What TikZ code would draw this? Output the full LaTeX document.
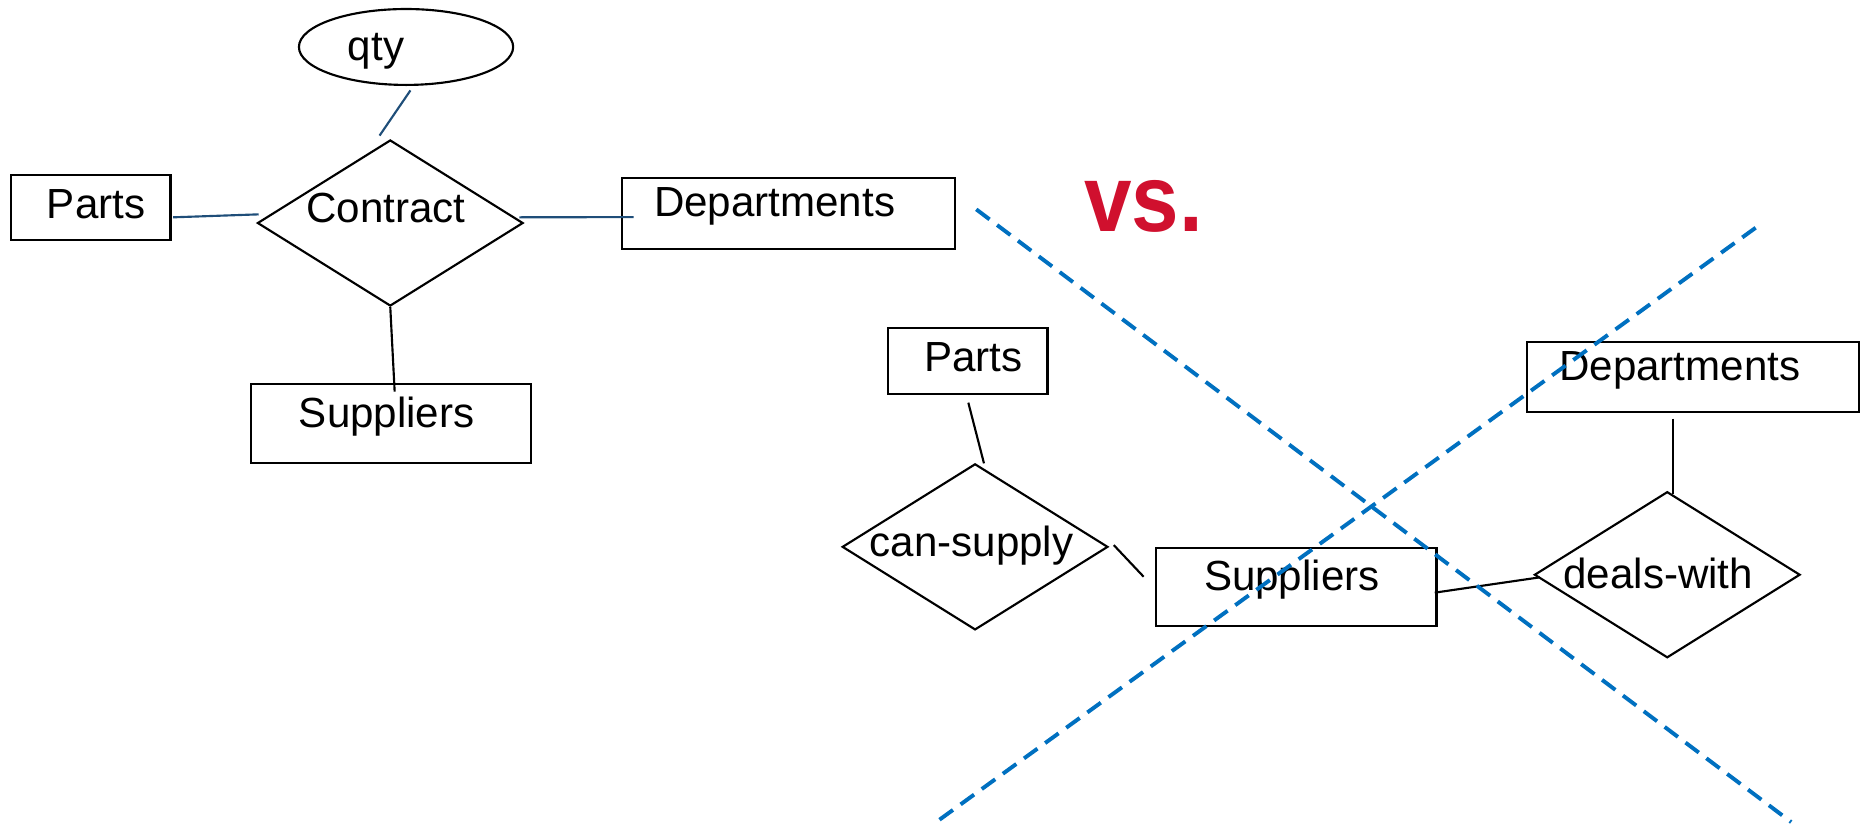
\documentclass[tikz,border=0pt]{standalone}
\usepackage{fontspec}
\setmainfont{Liberation Sans}
\usetikzlibrary{shapes.geometric,calc}
\definecolor{conblue}{RGB}{31,78,121}
\definecolor{dashblue}{RGB}{0,112,192}
\definecolor{vsred}{RGB}{208,16,46}
\begin{document}
\begin{tikzpicture}[x=1pt,y=-1pt,
  box/.style={draw, line width=1.8pt, rectangle, inner sep=0pt},
  rel/.style={draw, diamond, line width=1.8pt, inner sep=0pt, minimum width=224pt, minimum height=140pt},
  attr/.style={draw, ellipse, line width=1.8pt, inner sep=0pt},
  lbl/.style={font=\fontsize{35.5}{42}\selectfont, anchor=base, inner sep=0pt},
  conb/.style={draw=conblue, line width=1.8pt},
  conk/.style={draw=black, line width=1.8pt},
  cross/.style={draw=dashblue, line width=3.3pt, dash pattern=on 14pt off 8pt}]
\useasboundingbox (0,0) rectangle (1568,693.8);

% ---- left diagram ----
\node[attr, minimum width=180.6pt, minimum height=64pt] (qty) at (342.3,39.6) {};
\node[lbl] (qtyt) at (317,51.4) {qty};
\node[rel] (contract) at (329,188) {};
\node[lbl] (contractt) at (325.5,187.7) {Contract};
\node[box, minimum width=134.7pt, minimum height=55pt] (partsL) at (76.4,175) {};
\node[lbl] (partsLt) at (81,184.6) {Parts};
\node[box, minimum width=236pt, minimum height=66pt] (suppL) at (329.7,357) {};
\node[lbl] (suppLt) at (326,360.5) {Suppliers};
\node[box, minimum width=280.8pt, minimum height=59.8pt] (depL) at (665,179.7) {};
\node[lbl] (depLt) at (653,182.7) {Departments};

\draw[conb] ($(qty.south)+(3.7,3.7)$) -- ($(contract.north)+(-9,-2.8)$);
\draw[conb] ($(partsL.east)+(1.3,8.2)$) -- ($(contract.west)+(2,-7.3)$);
\draw[conb] ($(contract.east)+(-4,-4.8)$) -- ($(depL.west)+(10.4,3.3)$);
\draw[conk] (contract.south) -- ($(suppL.north)+(3,7)$);

% ---- vs. ----
\node[anchor=base west, inner sep=0pt, text=vsred, font=\fontsize{80}{90}\selectfont\bfseries] (vs) at (914,195.5) {\scalebox{0.9}[1]{vs.}};

% ---- right diagram ----
\node[box, minimum width=134.4pt, minimum height=55.7pt] (partsR) at (815.8,304) {};
\node[lbl] (partsRt) at (820.5,313.3) {Parts};
\node[rel] (cansup) at (822,461) {};
\node[lbl] (cansupt) at (819,469.3) {can-supply};
\node[box, minimum width=236.6pt, minimum height=65.4pt] (suppR) at (1092.7,495) {};
\node[lbl] (suppRt) at (1089,497.4) {Suppliers};
\node[rel] (deals) at (1405.5,484.5) {};
\node[lbl] (dealst) at (1398,496) {deals-with};
\node[box, minimum width=279.4pt, minimum height=59.6pt] (depR) at (1427.3,317.8) {};
\node[lbl] (depRt) at (1416,320.4) {Departments};

\draw[conk] ($(partsR.south)+(0.5,6.7)$) -- ($(cansup.north)+(7.5,0.5)$);
\draw[conk] ($(cansup.east)+(4,-1.5)$) -- ($(suppR.west)+(-9.4,-8.8)$);
\draw[conk] ($(suppR.east)+(-2.4,4.6)$) -- ($(deals.west)+(5.5,2.2)$);
\draw[conk] ($(depR.south)+(-17.3,4.4)$) -- ($(deals.north)+(4.5,2.5)$);

% ---- crossing-out lines ----
\coordinate (xa1) at (823,176.5);
\coordinate (xa2) at (1510,693);
\coordinate (xb1) at (792,691);
\coordinate (xb2) at (1480,192);
\draw[cross] (xa1) -- (xa2);
\draw[cross] (xb1) -- (xb2);
\end{tikzpicture}
\end{document}
